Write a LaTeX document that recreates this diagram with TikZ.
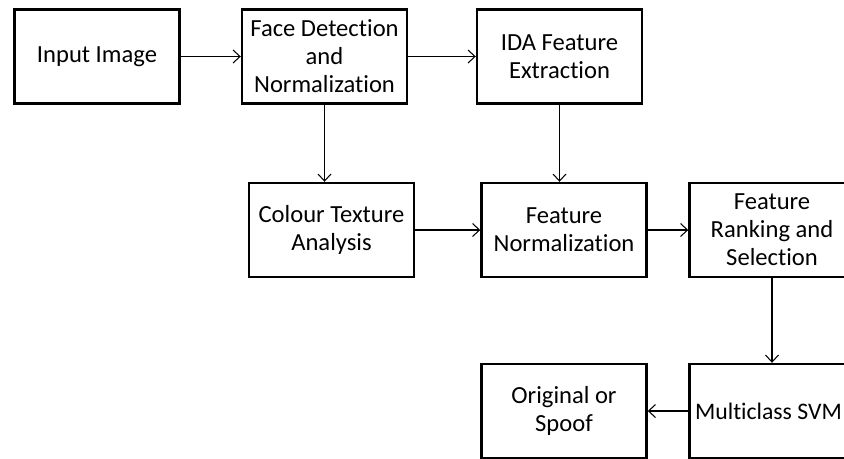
\documentclass[tikz,border=0pt]{standalone}
\usepackage{fontspec}
\setmainfont[Ligatures=NoCommon]{Carlito}
\usepackage{tikz}
\usetikzlibrary{positioning,calc,arrows.meta}

\begin{document}
\begin{tikzpicture}[x=0.02cm, y=-0.02cm]
        \tikzstyle{blockbox}=[rectangle, draw, line width=1.4pt, minimum width=3.3cm, minimum height=1.88cm, align=center, inner sep=2pt, font=\fontsize{14}{16}\selectfont]
        \tikzstyle{arr}=[line width=0.6pt, -{Straight Barb[length=1.4mm, width=2.6mm]}]

        \useasboundingbox (0,0) rectangle (844,458);

        \node[blockbox] (inp) at (97,56.5) {Input Image};
        \node[blockbox] (face) at (324.5,56.5) {Face Detection\\and\\Normalization};
        \node[blockbox] (ida) at (559.5,56.5) {IDA Feature\\Extraction};

        \node[blockbox] (col) at (331.5,230) {Colour Texture\\Analysis};
        \node[blockbox] (fnorm) at (564,230) {Feature\\Normalization};
        \node[blockbox] (rank) at (772,230) {Feature\\Ranking and\\Selection};

        \node[blockbox] (orig) at (564,411) {Original or\\Spoof};
        \node[blockbox, font=\fontsize{13.5}{16}\selectfont] (svm) at (772,411) {Multiclass SVM\hspace*{4pt}};

        \draw[arr] (inp) -- (face);
        \draw[arr] (face) -- (ida);
        \draw[arr] (face.south) -- (face.south |- col.north);
        \draw[arr] (ida.south) -- (ida.south |- fnorm.north);
        \draw[arr] (col) -- (fnorm);
        \draw[arr] (fnorm) -- (rank);
        \draw[arr] (rank) -- (svm);
        \draw[arr] (svm) -- (orig);
    \end{tikzpicture}
\end{document}
